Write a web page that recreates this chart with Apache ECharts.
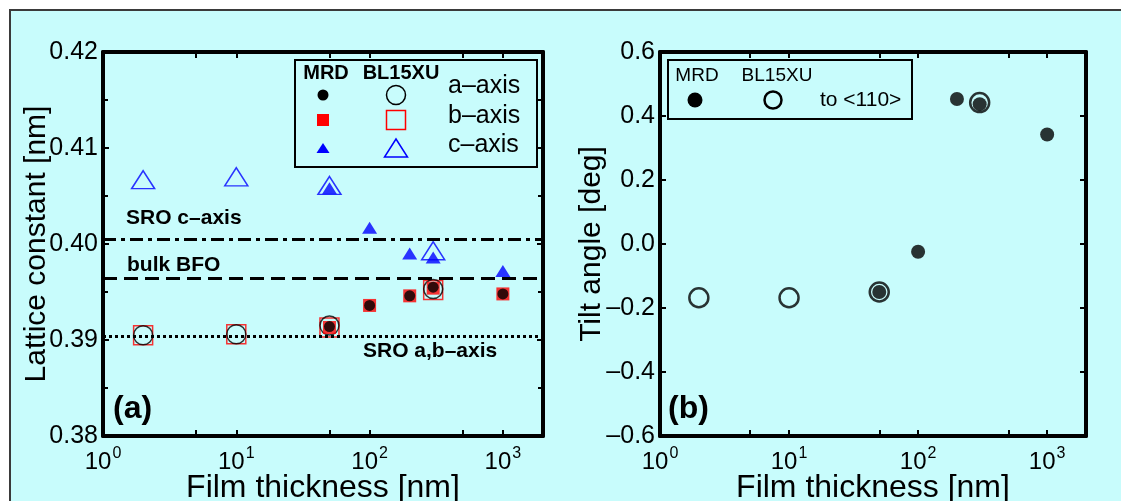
<!DOCTYPE html>
<html><head><meta charset="utf-8">
<script src="https://cdn.jsdelivr.net/npm/echarts@6/dist/echarts.min.js"></script>
<style>
html,body{margin:0;padding:0;background:#fff;overflow:hidden;width:1121px;height:501px}
#bg{position:absolute;left:9px;top:9px;width:1130px;height:510px;background:#c8fcfc;border:2px solid #3a3a3a}
#c{position:absolute;left:0;top:0;width:1121px;height:501px}
</style>
</head><body><div id="bg"></div><div id="c"></div>
<script>
// ---- data: panel (a) lattice constants [nm] ----
const thickMRD = [50, 100, 200, 300, 1000];
const mrdA = [0.3914, 0.3936, 0.3946, 0.3955, 0.3948];
const mrdB = [0.3913, 0.3936, 0.3946, 0.3954, 0.3948];
const mrdC = [0.4058, 0.4017, 0.3990, 0.3986, 0.3972];
const thickBL = [2, 10, 50, 300];
const blA = [0.3905, 0.3906, 0.3915, 0.3953];
const blB = [0.3905, 0.3906, 0.3913, 0.3952];
const blC = [0.4067, 0.4070, 0.4061, 0.3993];
const refSROc = 0.4005;
const refBulkBFO = 0.3964;
const refSROab = 0.3904;
// ---- data: panel (b) tilt angle [deg] ----
const tiltThickMRD = [50, 100, 200, 300, 1000];
const tiltMRD = [-0.150, -0.024, 0.453, 0.437, 0.342];
const tiltThickBL = [2, 10, 50, 300];
const tiltBL = [-0.168, -0.168, -0.150, 0.442];
// ---- ticks ----
const xMajor = [1, 10, 100, 1000];
const xTickVals = [1, 5, 10, 50, 100, 500, 1000];

const FONT = 'Liberation Sans, Arial, Helvetica, sans-serif';
const pair = (xs, ys) => xs.map((x, i) => [x, ys[i]]);

function xAxisDef(grid, pos, withLabels) {
  return {
    type: 'log', logBase: 10, min: 1, max: 2000, gridIndex: grid, position: pos,
    axisLine: { show: true, onZero: false, lineStyle: { color: '#000', width: 4 } },
    axisTick: { show: true, inside: true, length: 6, customValues: xTickVals, lineStyle: { color: '#000', width: 2 } },
    minorTick: { show: false },
    splitLine: { show: false },
    axisLabel: withLabels ? {
      show: true, margin: 10, customValues: xMajor,
      formatter: v => '{b|10}{s|' + Math.round(Math.log10(v)) + '}',
      rich: {
        b: { fontSize: 24, color: '#000', fontFamily: FONT, verticalAlign: 'bottom' },
        s: { fontSize: 16, color: '#000', fontFamily: FONT, verticalAlign: 'bottom', padding: [0, 0, 12, 1] }
      }
    } : { show: false },
    name: withLabels ? 'Film thickness [nm]' : '',
    nameLocation: 'middle', nameGap: 36, nameMoveOverlap: false,
    nameTextStyle: { fontSize: 32, color: '#000', fontFamily: FONT }
  };
}
function yAxisDef(grid, pos, withLabels, min, max, interval, minor, fmt, name, gap) {
  return {
    type: 'value', min: min, max: max, interval: interval, gridIndex: grid, position: pos,
    axisLine: { show: true, onZero: false, lineStyle: { color: '#000', width: 4 } },
    axisTick: { show: true, inside: true, length: 6, lineStyle: { color: '#000', width: 2 } },
    minorTick: { show: minor, splitNumber: 2, length: 5, lineStyle: { color: '#000', width: 2 } },
    splitLine: { show: false },
    axisLabel: withLabels ? { show: true, margin: 5, fontSize: 25, color: '#000', fontFamily: FONT, formatter: fmt } : { show: false },
    name: withLabels ? name : '',
    nameLocation: 'middle', nameGap: gap, nameMoveOverlap: false,
    nameTextStyle: { fontSize: 30, color: '#000', fontFamily: FONT }
  };
}
const fmtA = v => v.toFixed(2);
const fmtB = v => v.toFixed(1).replace('-', '\u2013');

const open = (c, w) => ({ color: 'transparent', borderColor: c, borderWidth: w });

const option = {
  backgroundColor: 'transparent',
  animation: false,
  textStyle: { fontFamily: FONT, color: '#000' },
  grid: [
    { left: 103, top: 52, width: 440, height: 384, outerBoundsMode: 'none', containLabel: false },
    { left: 660, top: 52, width: 426, height: 384, outerBoundsMode: 'none', containLabel: false }
  ],
  xAxis: [
    xAxisDef(0, 'bottom', true), xAxisDef(0, 'top', false),
    xAxisDef(1, 'bottom', true), xAxisDef(1, 'top', false)
  ],
  yAxis: [
    yAxisDef(0, 'left', true, 0.38, 0.42, 0.01, true, fmtA, 'Lattice constant [nm]', 51),
    yAxisDef(0, 'right', false, 0.38, 0.42, 0.01, true, fmtA, '', 0),
    yAxisDef(1, 'left', true, -0.6, 0.6, 0.2, false, fmtB, 'Tilt angle [deg]', 53),
    yAxisDef(1, 'right', false, -0.6, 0.6, 0.2, false, fmtB, '', 0)
  ],
  series: [
    { type: 'scatter', xAxisIndex: 0, yAxisIndex: 0, symbol: 'rect', symbolSize: 19,
      itemStyle: open('#ff0000', 1.5), data: pair(thickBL, blB),
      markLine: { symbol: 'none', silent: true, precision: 6, label: { show: false }, animation: false,
        data: [
          { yAxis: refSROc, lineStyle: { color: '#000', width: 3, type: [13, 5, 4, 5] } },
          { yAxis: refBulkBFO, lineStyle: { color: '#000', width: 3, type: [14, 7] } },
          { yAxis: refSROab, lineStyle: { color: '#000', width: 3, type: [3, 3] } }
        ] } },
    { type: 'scatter', xAxisIndex: 0, yAxisIndex: 0, symbol: 'circle', symbolSize: 19,
      itemStyle: open('#000', 1.5), data: pair(thickBL, blA) },
    { type: 'scatter', xAxisIndex: 0, yAxisIndex: 0, symbol: 'triangle', symbolSize: [23, 18],
      itemStyle: open('#0000ff', 1.5), data: pair(thickBL, blC) },
    { type: 'scatter', xAxisIndex: 0, yAxisIndex: 0, symbol: 'rect', symbolSize: 13,
      itemStyle: { color: '#ff0000' }, data: pair(thickMRD, mrdB) },
    { type: 'scatter', xAxisIndex: 0, yAxisIndex: 0, symbol: 'circle', symbolSize: 11,
      itemStyle: { color: '#000' }, data: pair(thickMRD, mrdA) },
    { type: 'scatter', xAxisIndex: 0, yAxisIndex: 0, symbol: 'triangle', symbolSize: [15, 12],
      itemStyle: { color: '#0000ff' }, data: pair(thickMRD, mrdC) },
    { type: 'scatter', xAxisIndex: 2, yAxisIndex: 2, symbol: 'circle', symbolSize: 19,
      itemStyle: open('#000', 2.5), data: pair(tiltThickBL, tiltBL) },
    { type: 'scatter', xAxisIndex: 2, yAxisIndex: 2, symbol: 'circle', symbolSize: 14,
      itemStyle: { color: '#000' }, data: pair(tiltThickMRD, tiltMRD) }
  ],
  graphic: [
    // panel (a) annotations
    { type: 'text', left: 126, top: 208, style: { text: 'SRO c\u2013axis', font: 'bold 21px ' + FONT, fill: '#000' } },
    { type: 'text', left: 127, top: 255, style: { text: 'bulk BFO', font: 'bold 21px ' + FONT, fill: '#000' } },
    { type: 'text', left: 363, top: 341, style: { text: 'SRO a,b\u2013axis', font: 'bold 21px ' + FONT, fill: '#000' } },
    { type: 'text', left: 113, top: 393, style: { text: '(a)', font: 'bold 32px ' + FONT, fill: '#000' } },
    { type: 'text', left: 668, top: 393, style: { text: '(b)', font: 'bold 32px ' + FONT, fill: '#000' } },
    // legend (a)
    { type: 'rect', shape: { x: 295, y: 60, width: 242, height: 107 }, style: { fill: 'none', stroke: '#000', lineWidth: 2 } },
    { type: 'text', x: 326, y: 73, style: { text: 'MRD', font: 'bold 20px ' + FONT, fill: '#000', align: 'center', verticalAlign: 'middle' } },
    { type: 'text', x: 401, y: 73, style: { text: 'BL15XU', font: 'bold 20px ' + FONT, fill: '#000', align: 'center', verticalAlign: 'middle' } },
    { type: 'circle', shape: { cx: 323, cy: 95, r: 5.5 }, style: { fill: '#000' } },
    { type: 'circle', shape: { cx: 396, cy: 95, r: 9.5 }, style: { fill: 'none', stroke: '#000', lineWidth: 1.5 } },
    { type: 'rect', shape: { x: 317, y: 114, width: 12, height: 12 }, style: { fill: '#ff0000' } },
    { type: 'rect', shape: { x: 386.5, y: 110.5, width: 19, height: 19 }, style: { fill: 'none', stroke: '#ff0000', lineWidth: 1.5 } },
    { type: 'polygon', shape: { points: [[323, 143], [316.5, 153], [329.5, 153]] }, style: { fill: '#0000ff' } },
    { type: 'polygon', shape: { points: [[396, 139], [384.5, 157], [407.5, 157]] }, style: { fill: 'none', stroke: '#0000ff', lineWidth: 1.5 } },
    { type: 'text', x: 448, y: 86, style: { text: 'a\u2013axis', font: '25px ' + FONT, fill: '#000', verticalAlign: 'middle' } },
    { type: 'text', x: 448, y: 116, style: { text: 'b\u2013axis', font: '25px ' + FONT, fill: '#000', verticalAlign: 'middle' } },
    { type: 'text', x: 448, y: 145, style: { text: 'c\u2013axis', font: '25px ' + FONT, fill: '#000', verticalAlign: 'middle' } },
    // legend (b)
    { type: 'rect', shape: { x: 668, y: 60, width: 244, height: 59 }, style: { fill: 'none', stroke: '#000', lineWidth: 2 } },
    { type: 'text', x: 697, y: 76, style: { text: 'MRD', font: '19px ' + FONT, fill: '#000', align: 'center', verticalAlign: 'middle' } },
    { type: 'text', x: 777, y: 76, style: { text: 'BL15XU', font: '19px ' + FONT, fill: '#000', align: 'center', verticalAlign: 'middle' } },
    { type: 'circle', shape: { cx: 695, cy: 100, r: 7.5 }, style: { fill: '#000' } },
    { type: 'circle', shape: { cx: 773, cy: 100, r: 8.5 }, style: { fill: 'none', stroke: '#000', lineWidth: 2.5 } },
    { type: 'text', x: 820, y: 100, style: { text: 'to <110>', font: '21px ' + FONT, fill: '#000', verticalAlign: 'middle' } }
  ]
};
const chart = echarts.init(document.getElementById('c'), null, { renderer: 'canvas' });
chart.setOption(option);
</script>
</body></html>
